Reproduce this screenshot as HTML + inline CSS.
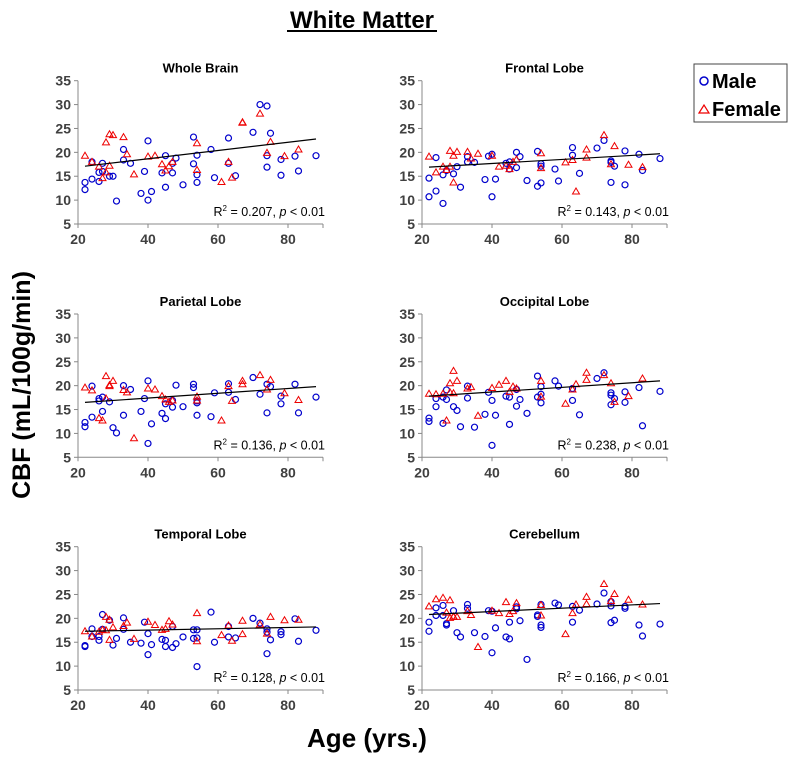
<!DOCTYPE html>
<html><head><meta charset="utf-8"><style>
body{margin:0;background:#fff;width:801px;height:763px;overflow:hidden;font-family:"Liberation Sans",sans-serif}
</style></head><body>
<svg id="svg" width="801" height="763" xmlns="http://www.w3.org/2000/svg" font-family="Liberation Sans, sans-serif">
<text x="362" y="28" text-anchor="middle" font-size="24" font-weight="bold">White Matter</text>
<line x1="287" y1="31" x2="437" y2="31" stroke="#000" stroke-width="2"/>
<text transform="translate(30,385) rotate(-90)" text-anchor="middle" font-size="25" font-weight="bold">CBF (mL/100g/min)</text>
<text x="367" y="747" text-anchor="middle" font-size="26" font-weight="bold">Age (yrs.)</text>
<g>
<rect x="694" y="64" width="93" height="58" fill="#fff" stroke="#444" stroke-width="1"/>
<circle cx="704" cy="81" r="4" fill="none" stroke="#00c" stroke-width="1.5"/>
<text x="712" y="88" font-size="20" font-weight="bold">Male</text>
<path d="M699,113 L704,105 L709,113 Z" fill="none" stroke="#e00" stroke-width="1.2"/>
<text x="712" y="116" font-size="20" font-weight="bold">Female</text>
</g>
</svg>
<script>
const yTicks=[5,10,15,20,25,30,35];
const xTicks=[20,40,60,80];
const panelNames=["Whole Brain","Frontal Lobe","Parietal Lobe","Occipital Lobe","Temporal Lobe","Cerebellum"];
const r2Labels=["0.207","0.143","0.136","0.238","0.128","0.166"];
const maleAges=[
[22,22,24,24,26,26,27,27,29,30,31,33,33,35,38,39,40,40,41,44,45,45,47,47,48,50,53,53,54,54,54,58,59,63,63,65,70,72,74,74,74,75,78,78,82,83,88],
[22,22,24,24,26,26,27,29,30,31,33,33,35,38,39,40,40,41,44,45,45,47,47,48,50,53,53,54,54,54,58,59,63,63,65,70,72,74,74,74,75,78,78,82,83,88],
[22,22,24,24,26,26,27,27,29,30,31,33,33,35,38,39,40,40,41,44,45,45,47,47,48,50,53,53,54,54,54,58,59,63,63,65,70,72,74,74,75,78,78,82,83,88],
[22,22,24,24,26,26,27,27,29,30,31,33,33,35,38,39,40,40,41,44,45,45,47,47,48,50,53,53,54,54,54,58,59,63,63,65,70,72,74,74,74,75,78,78,82,83,88],
[22,22,24,24,26,26,27,27,29,30,31,33,33,35,38,39,40,40,41,44,45,45,47,47,48,50,53,53,54,54,54,58,59,63,63,65,70,72,74,74,74,75,78,78,82,83,88],
[22,22,24,24,26,26,27,27,29,30,31,33,33,35,38,39,40,40,41,44,45,45,47,47,48,50,53,53,54,54,54,58,59,63,63,65,70,72,74,74,74,75,78,78,82,83,88]];
const maleVals=[
[13.7,12.2,14.4,18,13.9,15.8,17.7,16,15,15,9.8,20.6,18.4,17.7,11.4,16,22.4,10,11.8,15.7,19.3,12.7,15.7,17.7,18.8,13.2,23.2,17.6,19.4,15.3,13.7,20.6,14.7,23,17.7,15.1,24.2,30,29.7,19.3,16.9,24,18.5,15.2,19.2,16.1,19.3],
[14.6,10.7,18.9,11.9,15.3,9.3,16.2,15.5,17,12.7,19.1,18,17.9,14.3,19.2,19.6,10.7,14.4,17.7,16.5,18,20,16.8,19.1,14.1,20.2,12.9,17.6,17.1,13.6,16.5,14,21,19.4,15.6,20.9,22.5,18.2,17.9,13.7,17.1,20.3,13.2,19.6,16.2,18.7],
[12.3,11.4,19.9,13.4,16.8,17.3,17.6,14.6,16.6,11.2,10.1,20,13.8,19.2,14.6,17.3,21,7.9,12,14.2,16.2,13.1,16.9,15.5,20.1,15.6,20.3,19.6,16.8,16.4,13.8,13.5,18.5,20.4,18.6,17.1,21.7,18.2,20.3,14.3,19.8,17.8,16.2,20.3,14.3,17.6],
[13.2,12.5,17.3,15.6,17.6,12.1,19.1,17.1,15.6,14.8,11.4,19.9,17.4,11.3,14,18.6,16.9,7.5,13.8,17.8,17.6,11.9,19.2,15.7,17.1,14.2,22,17.6,19.8,18.2,16.4,21,19.9,19.4,16.9,13.9,21.5,22.7,18.5,18,16,17.3,18.7,16.5,19.6,11.6,18.8],
[14.3,14.1,17.8,16.2,16.2,15.4,20.8,17.7,19.6,14.4,15.8,20.1,17.7,15,14.8,19.2,16.8,12.4,14.5,15.6,15.4,14.1,18.3,13.9,14.7,16.1,17.6,15.8,17.6,15.9,9.9,21.3,15,18.3,16.1,15.9,20,19,17.8,17.1,12.6,15.5,17.2,16.6,19.9,15.2,17.5],
[19.2,17.3,22.2,20.6,22.7,20.6,18.9,18.6,21.6,17,16.1,22.9,22.1,17,16.2,21.6,21.5,12.8,18,16.1,19.2,15.7,22.4,22,19.5,11.4,20.7,20.4,22.9,18.6,18.1,23.2,22.8,22.5,19.2,21.7,23,25.3,23.5,22.6,19.1,19.6,22.5,22.1,18.6,16.3,18.8]];
const femaleAges=[22,24,26,27,28,28,29,29,30,33,34,36,40,42,44,45,46,47,54,54,61,63,64,67,67,72,74,75,79,83];
const femaleVals=[
[19.3,18,17,14.6,22.1,15.8,23.8,17.2,23.6,23.2,19.6,15.4,19.1,19.3,17.5,16.2,17.1,18,21.9,16.3,13.8,18,14.7,26.3,26.2,28.1,19.9,22.2,19.2,20.6],
[19.1,15.8,17,16.3,20.3,17,19.3,13.7,20.1,20.1,18.7,19.7,19.3,17,17.2,16.5,18,18.5,19.8,16.7,17.9,18.4,11.8,20.6,18.9,23.6,17.5,21.3,17.4,16.9],
[19.6,19,13.2,12.7,22,17.3,19.9,20.1,21,19.1,18.6,9,19.4,19.2,17.8,17.1,16.6,16.9,17.7,16.9,12.7,19.9,16.8,21,20.3,22.2,19.2,21.2,18.4,17],
[18.3,18.2,18.3,12.7,20.5,18.6,18.4,23.1,21,19.4,19.7,13.7,19.5,20.2,21,18.7,19.8,19.4,21,17.7,16.2,19.2,20.3,22.7,21.2,22.2,20.5,16.6,17.8,21.5],
[17.3,16.2,17.2,17.6,20.3,17.5,19.7,15.5,18.1,18.4,19.1,15.7,19.3,18.6,17.6,17.8,19.4,18.7,21.1,15.2,16.5,18.5,15.3,19.5,16.7,18.7,16.8,20.3,19.6,19.7],
[22.5,24,24.3,21.2,23.8,20.1,20.3,20.4,20.3,21.5,20.7,14,21.6,21.1,23.4,20.9,21.5,23.2,22.8,20.6,16.7,21.1,22.9,24.5,23,27.2,23.6,25.1,23.9,22.9]];
const trendStart=[17.1,16.9,16.5,17.8,17.3,20.8];
const trendEnd=[22.8,19.7,19.8,21.0,18.2,23.1];

const svg=document.getElementById('svg');
const NS='http://www.w3.org/2000/svg';
function mk(tag,attrs,parent){const e=document.createElementNS(NS,tag);for(const k in attrs)e.setAttribute(k,attrs[k]);(parent||svg).appendChild(e);return e;}
const colX=[78,422], rowY=[80.7,314,546.7], W=245, H=143.3;
for(let p=0;p<6;p++){
  const x0=colX[p%2], yTop=rowY[Math.floor(p/2)];
  const xs=a=>x0+(a-20)/70*W;
  const ys=v=>yTop+(35-v)/30*H;
  const g=mk('g',{});
  
  
  const t=mk('text',{x:x0+W/2,y:yTop-8,'text-anchor':'middle','font-size':13,'font-weight':'bold'},g);
  t.textContent=panelNames[p];
  
  
  const ax=mk('path',{d:`M${x0},${yTop} L${x0},${yTop+H} L${x0+W},${yTop+H}`,fill:'none',stroke:'#888','stroke-width':1},g);
  
  
  yTicks.forEach(v=>{
    mk('line',{x1:x0-4,x2:x0,y1:ys(v),y2:ys(v),stroke:'#888'},g);
    const l=mk('text',{x:x0-7,y:ys(v)+5,'text-anchor':'end','font-size':14,'font-weight':'bold',fill:'#404040'},g);
    l.textContent=v;
    
    
  });
  xTicks.concat([90]).forEach(v=>mk('line',{x1:xs(v),x2:xs(v),y1:yTop+H,y2:yTop+H+4,stroke:'#888'},g));
  xTicks.forEach(v=>{
    const l=mk('text',{x:xs(v),y:yTop+H+20,'text-anchor':'middle','font-size':14,'font-weight':'bold',fill:'#404040'},g);
    l.textContent=v;
    
    
  });
  maleAges[p].forEach((a,i)=>{
    const c=mk('circle',{cx:xs(a),cy:ys(maleVals[p][i]),r:3,fill:'none',stroke:'#00c','stroke-width':1.2},g);
    
    
  });
  femaleAges.forEach((a,i)=>{
    const cx=xs(a),cy=ys(femaleVals[p][i]);
    const c=mk('path',{d:`M${cx-3.5},${cy+2.5} L${cx},${cy-3.5} L${cx+3.5},${cy+2.5} Z`,fill:'none',stroke:'#e00','stroke-width':1},g);
    
    
  });
  const tl=mk('line',{x1:xs(22),y1:ys(trendStart[p]),x2:xs(88),y2:ys(trendEnd[p]),stroke:'#000','stroke-width':1.2},g);
  
  
  const r=mk('text',{x:x0+W+2,y:yTop+H-8,'text-anchor':'end','font-size':12.5},g);
  r.innerHTML='R<tspan dy="-5" font-size="8">2</tspan><tspan dy="5"> = '+r2Labels[p]+', </tspan><tspan font-style="italic">p</tspan> &lt; 0.01';
  
  
}
</script>
</body></html>
